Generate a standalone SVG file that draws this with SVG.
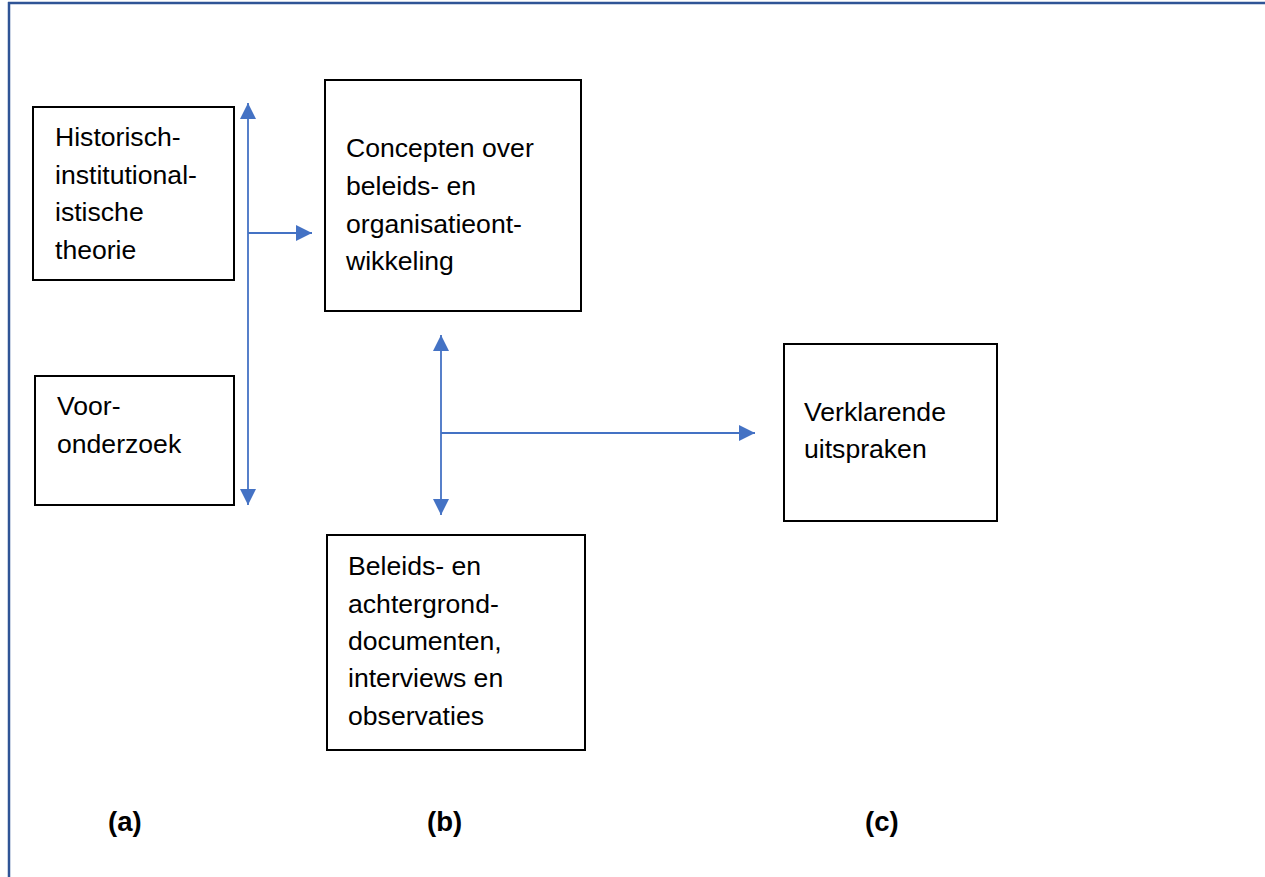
<svg xmlns="http://www.w3.org/2000/svg" width="1265" height="877" viewBox="0 0 1265 877">
<defs>
<marker id="ah" viewBox="0 0 16 16" refX="16" refY="8" markerWidth="16" markerHeight="16" markerUnits="userSpaceOnUse" orient="auto-start-reverse">
<path d="M0,0 L16,8 L0,16 Z" fill="#4472C4"/>
</marker>
<style>
.box{fill:#fff;stroke:#000;stroke-width:2}
.t{font-family:"Liberation Sans",Arial,sans-serif;font-size:26.6px;fill:#000}
.lbl{font-family:"Liberation Sans",Arial,sans-serif;font-size:27.5px;font-weight:bold;fill:#000}
.c{stroke:#4472C4;stroke-width:1.8;fill:none}
</style>
</defs>
<rect width="1265" height="877" fill="#fff"/>
<g id="frame">
<line x1="8" y1="3" x2="1265" y2="3" stroke="#2F5496" stroke-width="2.5"/>
<line x1="9" y1="2" x2="9" y2="877" stroke="#2F5496" stroke-width="2.5"/>
</g>
<g id="connectors">
<line class="c" x1="248" y1="505" x2="248" y2="103" marker-start="url(#ah)" marker-end="url(#ah)"/>
<line class="c" x1="248" y1="233" x2="312" y2="233" marker-end="url(#ah)"/>
<line class="c" x1="441" y1="515" x2="441" y2="335" marker-start="url(#ah)" marker-end="url(#ah)"/>
<line class="c" x1="441" y1="433" x2="755" y2="433" marker-end="url(#ah)"/>
</g>
<g id="node-historisch">
<rect class="box" x="33" y="107" width="201" height="173"/>
<text class="t" x="55" y="146">Historisch-</text>
<text class="t" x="55" y="184">institutional-</text>
<text class="t" x="55" y="221">istische</text>
<text class="t" x="55" y="259">theorie</text>
</g>
<g id="node-vooronderzoek">
<rect class="box" x="35" y="376" width="199" height="129"/>
<text class="t" x="57" y="415">Voor-</text>
<text class="t" x="57" y="453">onderzoek</text>
</g>
<g id="node-concepten">
<rect class="box" x="325" y="80" width="256" height="231"/>
<text class="t" x="346" y="157">Concepten over</text>
<text class="t" x="346" y="195">beleids- en</text>
<text class="t" x="346" y="233">organisatieont-</text>
<text class="t" x="346" y="270">wikkeling</text>
</g>
<g id="node-beleids">
<rect class="box" x="327" y="535" width="258" height="215"/>
<text class="t" x="348" y="575">Beleids- en</text>
<text class="t" x="348" y="613">achtergrond-</text>
<text class="t" x="348" y="650">documenten,</text>
<text class="t" x="348" y="687">interviews en</text>
<text class="t" x="348" y="725">observaties</text>
</g>
<g id="node-verklarende">
<rect class="box" x="784" y="344" width="213" height="177"/>
<text class="t" x="804" y="421">Verklarende</text>
<text class="t" x="804" y="458">uitspraken</text>
</g>
<g id="labels">
<text class="lbl" x="108" y="831">(a)</text>
<text class="lbl" x="427" y="831">(b)</text>
<text class="lbl" x="865" y="831">(c)</text>
</g>
</svg>
